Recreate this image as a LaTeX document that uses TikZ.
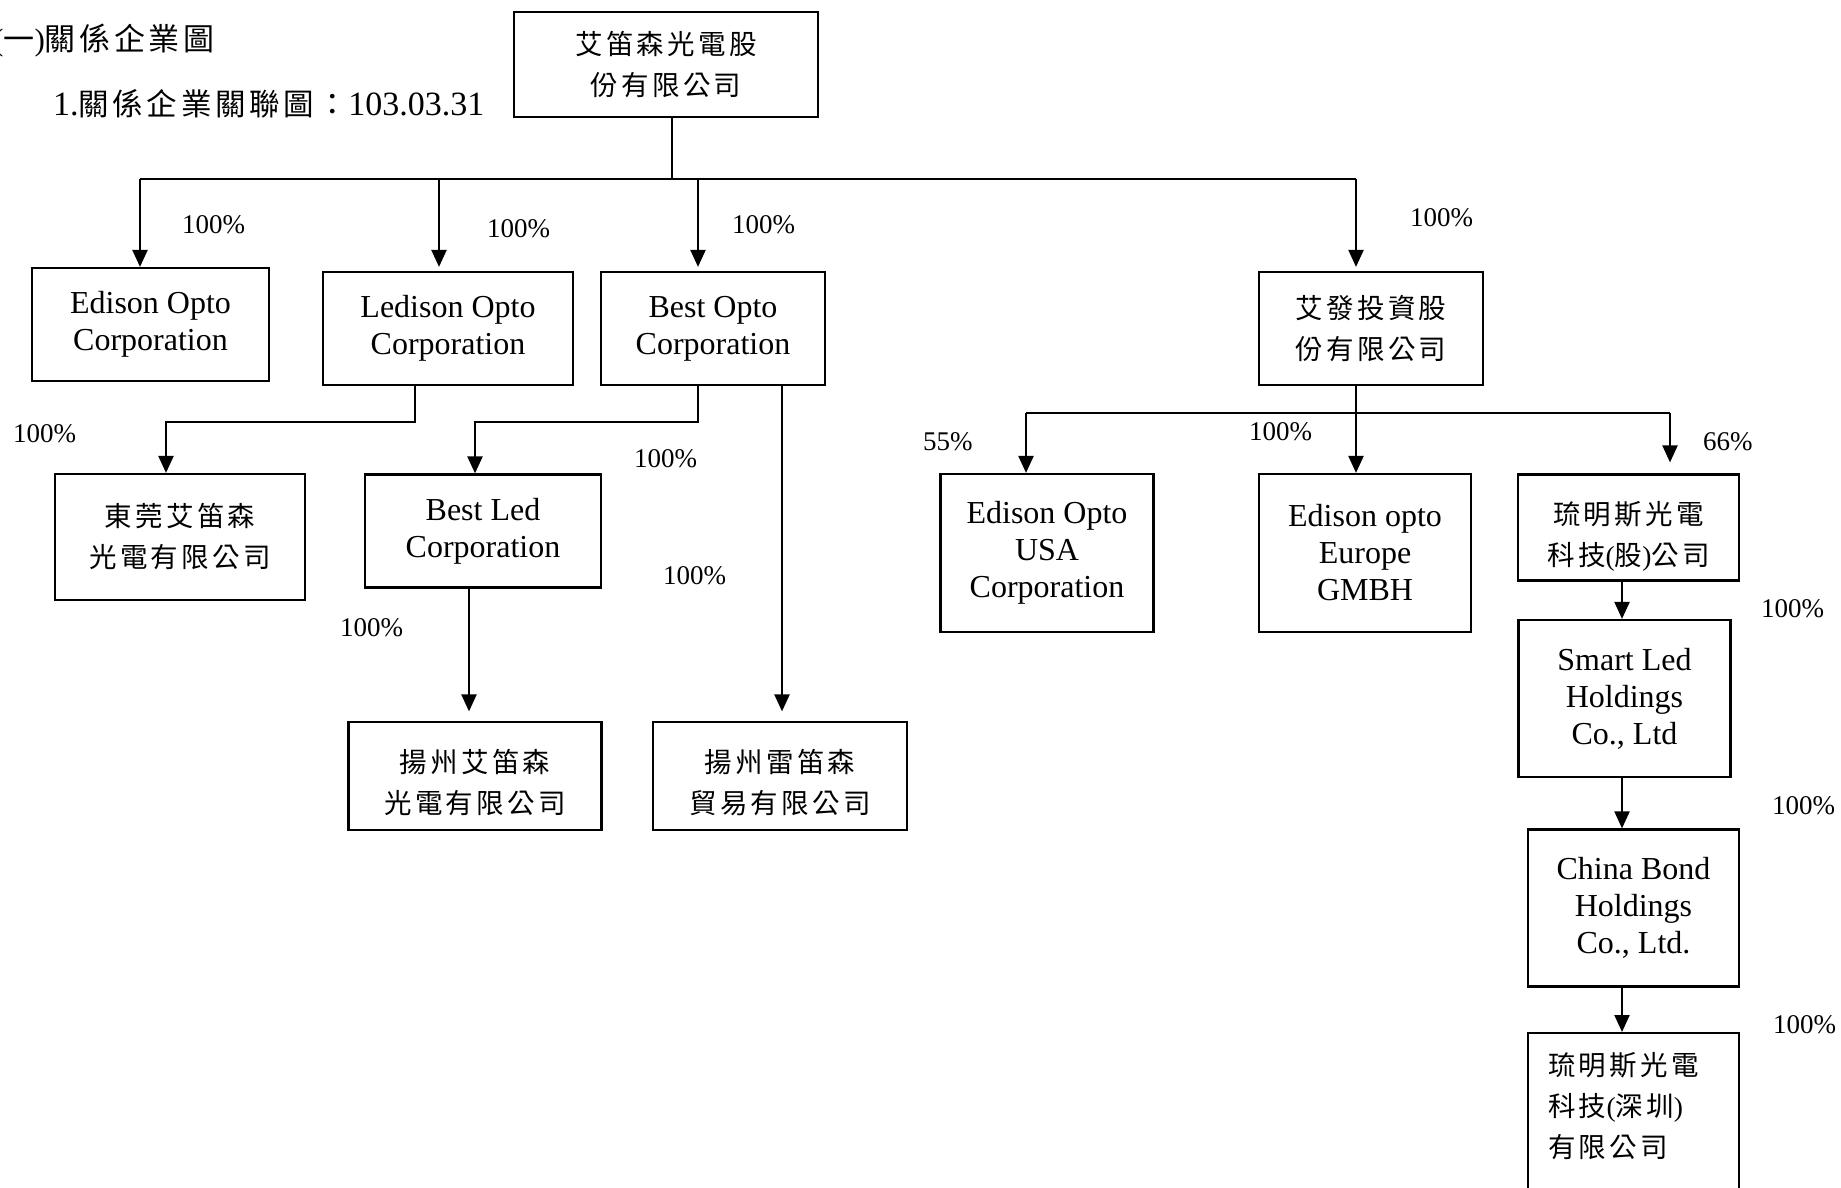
\documentclass[tikz,border=0pt]{standalone}
\usepackage{fontspec}
\setmainfont{Liberation Serif}
\newfontfamily\cjk[LetterSpace=12]{Noto Sans CJK TC}
\usetikzlibrary{arrows.meta,calc}
\newcommand{\zh}[1]{{\cjk #1}}
\tikzset{
  box/.style={draw, line width=2.2pt, inner sep=0pt, align=center},
  lat/.style={font=\fontsize{32}{37}\selectfont},
  han/.style={font=\fontsize{27.5}{41}\selectfont\cjk},
  htxt/.style={han, inner sep=0pt, align=center},
  pct/.style={font=\fontsize{27}{30}\selectfont, inner sep=0pt, anchor=base west},
  conn/.style={line width=2.2pt},
  arr/.style={line width=2.2pt, -{Triangle[length=17pt,width=15pt]}},
}
\begin{document}
\begin{tikzpicture}[x=1pt,y=-1pt]
\fill[white] (0,0) rectangle (1841,1188);
\useasboundingbox (0,0) rectangle (1841,1188);

% titles
\node[anchor=west, inner sep=0pt, font=\fontsize{31}{34}\selectfont] (title) at (-7,41) {(\zh{一})\zh{關係企業圖}};
\node[anchor=west, inner sep=0pt, font=\fontsize{34}{36}\selectfont] (sub) at (53,104) {1.{\fontsize{30.5}{34}\selectfont\cjk 關係企業關聯圖：}103.03.31};

% boxes
\node[box,han,minimum width=304,minimum height=105] (top) at (666,64.5) {艾笛森光電股\\份有限公司};
\node[box,lat,minimum width=237,minimum height=113] (eoc) at (150.5,324.5) {Edison Opto\\Corporation};
\node[box,lat,minimum width=250,minimum height=113] (led) at (448,328.5) {Ledison Opto\\Corporation};
\node[box,lat,minimum width=224,minimum height=113] (best) at (713,328.5) {Best Opto\\Corporation};
\node[box,han,minimum width=224,minimum height=113] (afa) at (1371,328.5) {艾發投資股\\份有限公司};
\node[box,han,minimum width=250,minimum height=126] (dg) at (180,537) {東莞艾笛森\\光電有限公司};
\node[box,lat,minimum width=236,minimum height=113] (bled) at (483,531) {Best Led\\Corporation};
\node[box,minimum width=253,minimum height=108] (yz1) at (475,776) {};
\node[htxt] (yz1t) at ($(yz1.center)+(0,7)$) {揚州艾笛森\\光電有限公司};
\node[box,minimum width=254,minimum height=108] (yz2) at (780,776) {};
\node[htxt] (yz2t) at ($(yz2.center)+(0,7)$) {揚州雷笛森\\貿易有限公司};
\node[box,lat,minimum width=213,minimum height=158] (usa) at (1047,553) {Edison Opto\\USA\\Corporation};
\node[box,lat,minimum width=212,minimum height=158] (eu) at (1365,553) {Edison opto\\Europe\\GMBH};
\node[box,minimum width=221,minimum height=106] (lum) at (1628.5,527.5) {};
\node[htxt] (lumt) at ($(lum.center)+(0,9)$) {琉明斯光電\\科技{\rmfamily(}股{\rmfamily)}公司};
\node[box,lat,minimum width=212,minimum height=157] (sl) at (1624.5,698.5) {Smart Led\\Holdings\\Co., Ltd};
\node[box,lat,minimum width=211,minimum height=157] (cb) at (1633.5,908) {China Bond\\Holdings\\Co., Ltd.};
\node[box,minimum width=211,minimum height=168,anchor=north] (sz) at (1633.5,1032) {};
\node[han,anchor=north west,align=left,inner sep=0pt] (sztext) at (1548,1052) {琉明斯光電\\科技{\rmfamily(}深圳{\rmfamily)}\\有限公司};

% connectors from top
\coordinate (b0) at (672,179);
\coordinate (b1) at (140,179);
\coordinate (b2) at (439,179);
\coordinate (b3) at (698,179);
\coordinate (b4) at (1356,179);
\draw[conn,line width=1.6pt] (top.south -| b0) -- (b0);
\draw[conn,line width=1.8pt] (b1) -- (b4);
\draw[arr] (b1) -- (b1 |- eoc.north);
\draw[arr,shorten >=4pt] (b2) -- (b2 |- led.north);
\draw[arr,shorten >=4pt] (b3) -- (b3 |- best.north);
\draw[arr,shorten >=4pt] (b4) -- (b4 |- afa.north);

% second level left
\coordinate (c1) at (415,422);
\coordinate (c2) at (166,422);
\draw[arr] (led.south -| c1) -- (c1) -- (c2) -- (c2 |- dg.north);
\coordinate (c3) at (698,422);
\coordinate (c4) at (475,422);
\draw[arr] (best.south -| c3) -- (c3) -- (c4) -- (c4 |- bled.north);
\coordinate (c5) at (782,422);
\draw[arr,shorten >=9.5pt] (best.south -| c5) -- (c5 |- yz2.north);
\coordinate (c6) at (469,600);
\draw[arr,shorten >=9.5pt] (bled.south -| c6) -- (c6 |- yz1.north);

% afa children
\coordinate (d0) at (1356,413);
\coordinate (d1) at (1026,413);
\coordinate (d3) at (1670,413);
\draw[conn] (afa.south -| d0) -- (d0);
\draw[conn] (d1) -- (d3);
\draw[arr] (d1) -- (d1 |- usa.north);
\draw[arr] (d0) -- (d0 |- eu.north);
\draw[arr,shorten >=11pt] (d3) -- (d3 |- lum.north);

% chain
\coordinate (e) at (1622,0);
\draw[arr] (lum.south -| e) -- (e |- sl.north);
\draw[arr] (sl.south -| e) -- (e |- cb.north);
\draw[arr] (cb.south -| e) -- (e |- sz.north);

% percentages
\node[pct] (p1) at (182,233) {100\%};
\node[pct] (p2) at (487,237) {100\%};
\node[pct] (p3) at (732,233) {100\%};
\node[pct] (p4) at (1410,226) {100\%};
\node[pct] (p5) at (13,442) {100\%};
\node[pct] (p6) at (634,467) {100\%};
\node[pct] (p7) at (663,584) {100\%};
\node[pct] (p8) at (340,636) {100\%};
\node[pct] (p9) at (923,450) {55\%};
\node[pct] (p10) at (1249,440) {100\%};
\node[pct] (p11) at (1703,450) {66\%};
\node[pct] (p12) at (1761,617) {100\%};
\node[pct] (p13) at (1772,814) {100\%};
\node[pct] (p14) at (1773,1033) {100\%};
\end{tikzpicture}
\end{document}
